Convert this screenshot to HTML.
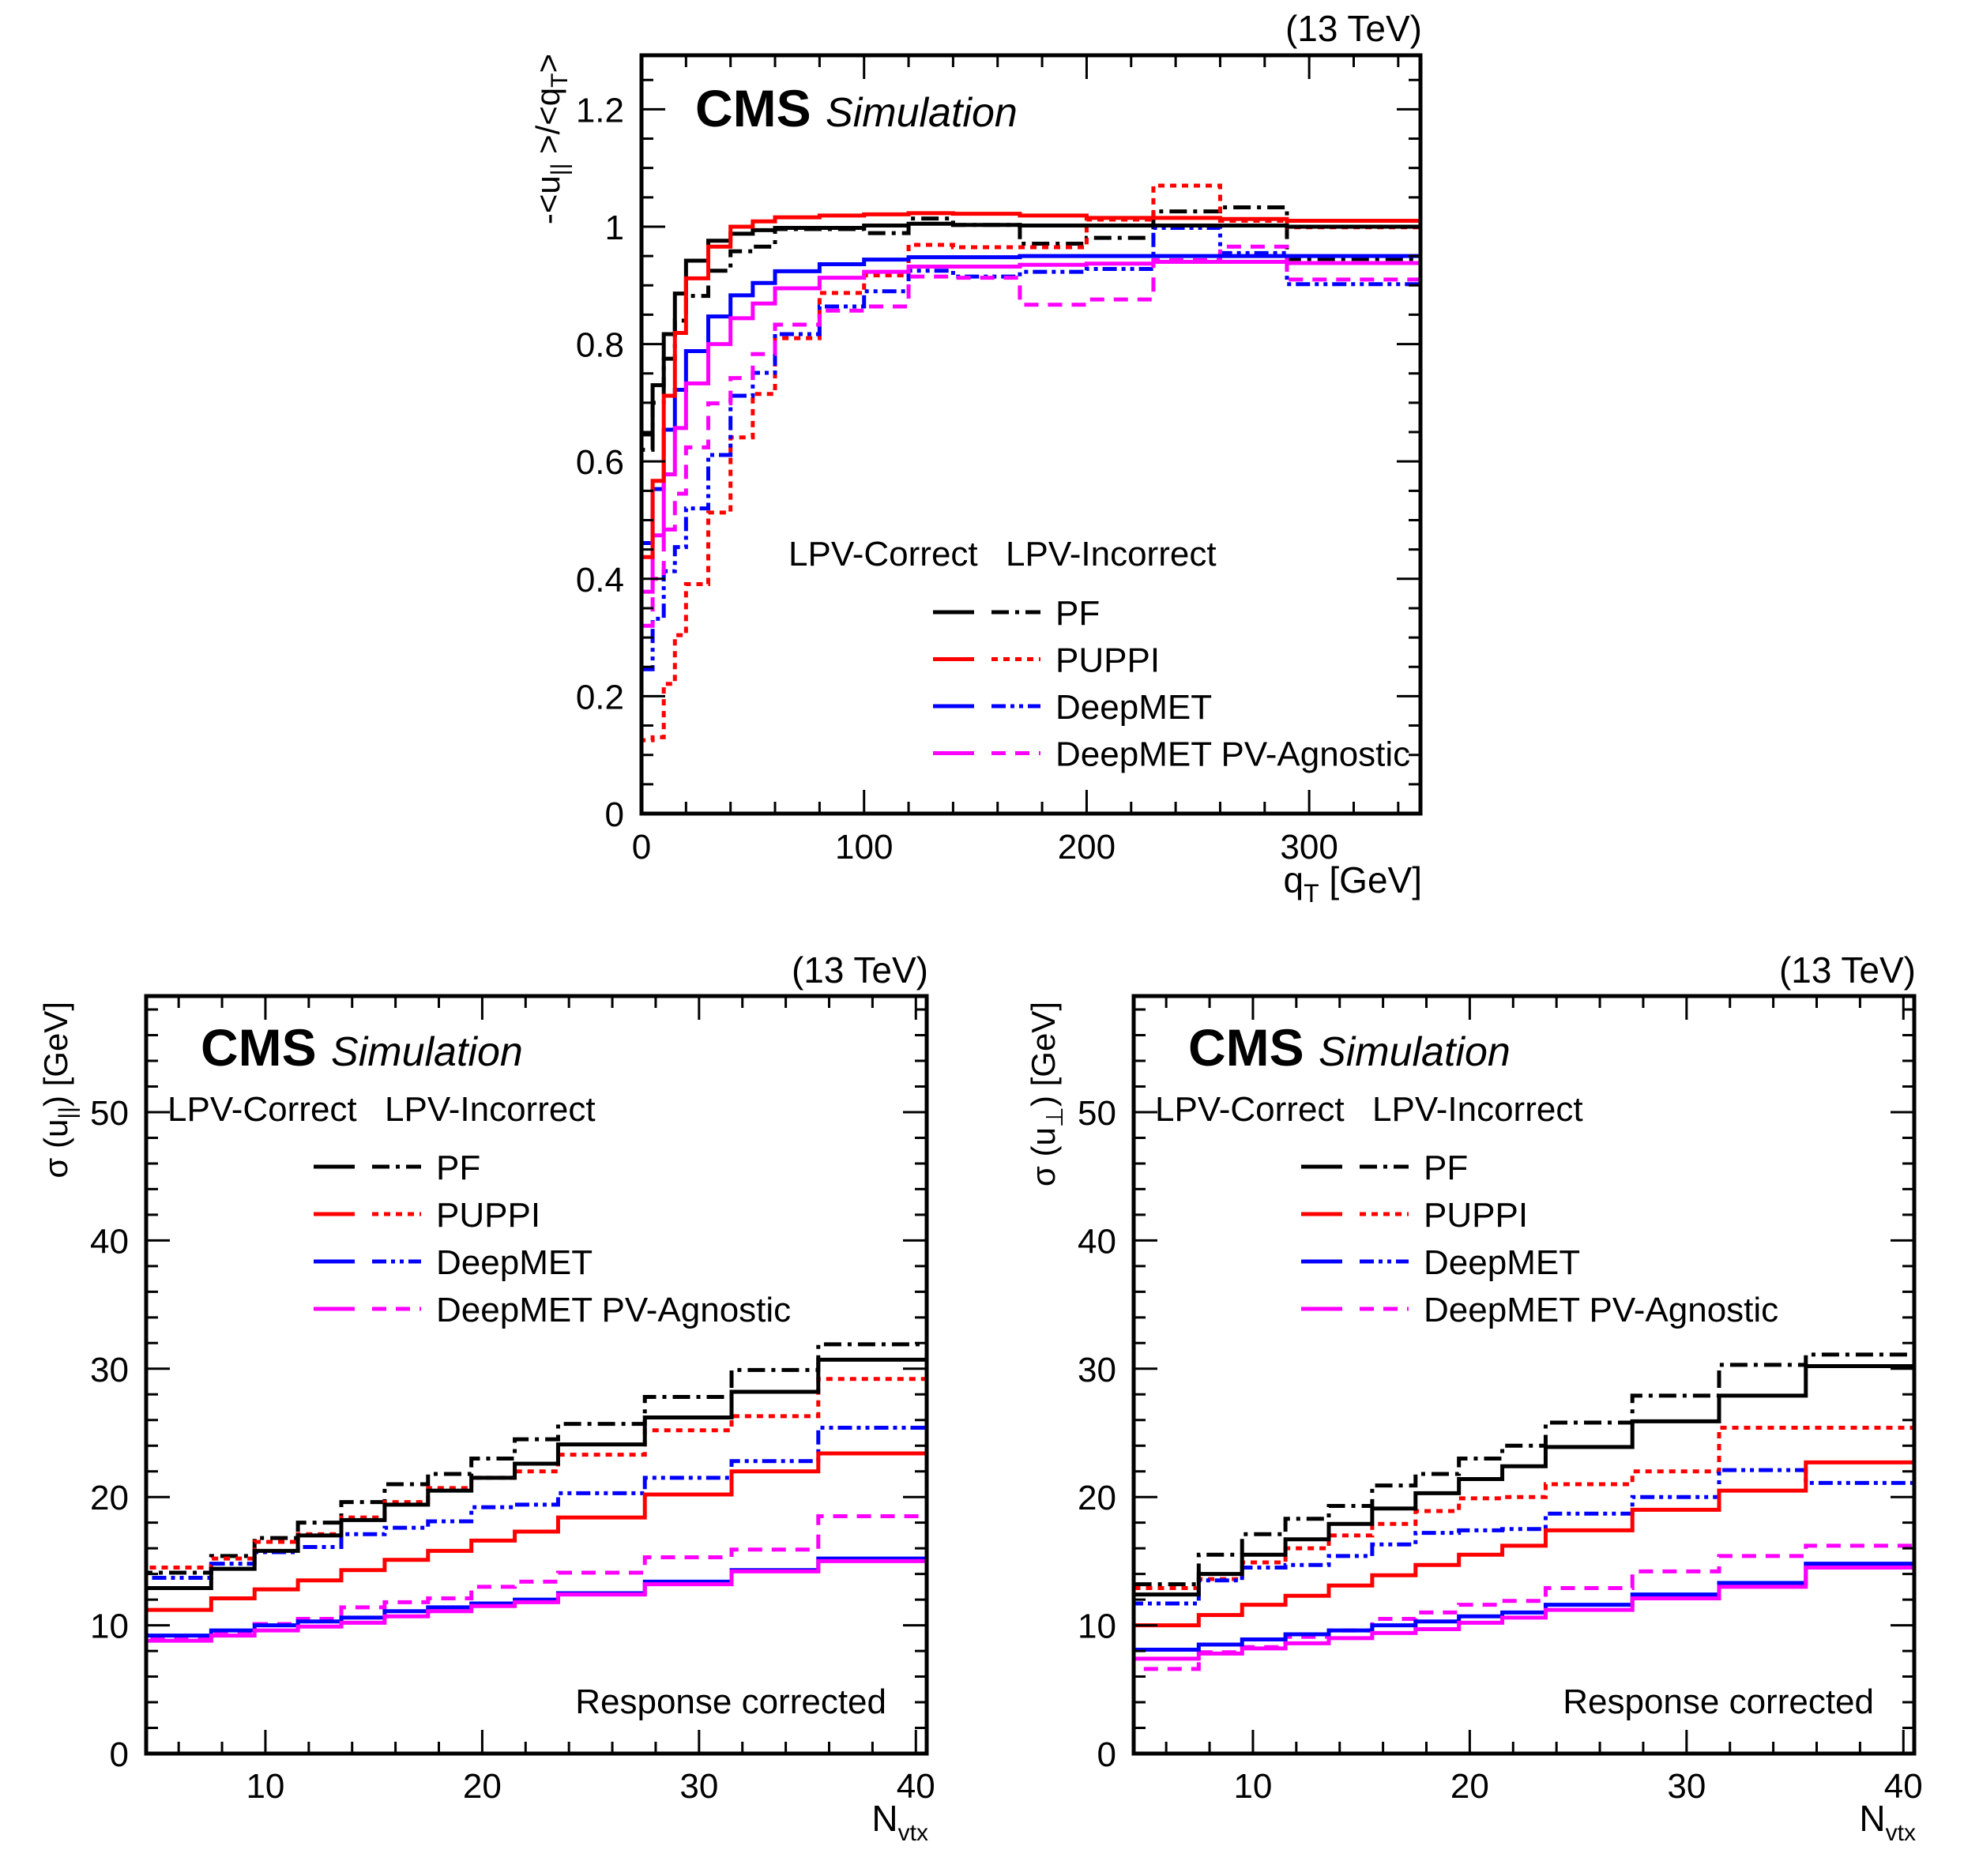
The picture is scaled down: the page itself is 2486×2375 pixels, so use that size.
<!DOCTYPE html>
<html><head><meta charset="utf-8"><style>
html,body{margin:0;padding:0;background:#fff;}
svg{display:block;font-family:"Liberation Sans",sans-serif;}
</style></head><body>
<svg id="fig" width="2486" height="2375" viewBox="0 0 2486 2375" xmlns="http://www.w3.org/2000/svg">
<rect width="2486" height="2375" fill="#fff"/>
</svg>
<script>
// ---- Top panel data (response vs qT) ----
const qtEdges = [0,5,10,15,20,30,40,50,60,80,100,120,140,170,200,230,260,290,350];
const respPF      = [0.646,0.73,0.817,0.886,0.942,0.976,0.988,0.994,0.998,0.998,1.002,1.005,1.003,1.002,1.002,1.002,1.002,1.0];
const respPFinc   = [0.62,0.70,0.775,0.84,0.882,0.925,0.958,0.966,0.996,0.996,0.989,1.014,1.003,0.971,0.981,1.026,1.033,0.945];
const respPUPPI   = [0.437,0.567,0.712,0.819,0.912,0.966,1.0,1.009,1.016,1.019,1.021,1.023,1.022,1.019,1.015,1.015,1.013,1.01];
const respPUPPIinc= [0.125,0.13,0.221,0.304,0.391,0.513,0.641,0.715,0.81,0.887,0.917,0.969,0.965,0.965,1.012,1.07,1.01,0.999];
const respDeep    = [0.461,0.553,0.654,0.722,0.788,0.847,0.883,0.904,0.924,0.936,0.944,0.948,0.948,0.95,0.95,0.95,0.95,0.95];
const respDeepinc = [0.246,0.332,0.413,0.454,0.52,0.611,0.712,0.751,0.817,0.864,0.89,0.925,0.915,0.923,0.928,0.998,0.955,0.902];
const respAgn     = [0.378,0.474,0.578,0.657,0.733,0.8,0.844,0.869,0.895,0.913,0.923,0.932,0.932,0.935,0.937,0.94,0.94,0.938];
const respAgninc  = [0.32,0.40,0.484,0.545,0.624,0.699,0.742,0.783,0.833,0.857,0.864,0.915,0.913,0.867,0.876,0.943,0.966,0.91];
const topXTicks = [0,100,200,300];
const topYTicks = [0,0.2,0.4,0.6,0.8,1,1.2];

// ---- Bottom panels data (resolution vs Nvtx) ----
const nvEdges = [4.5,7.5,9.5,11.5,13.5,15.5,17.5,19.5,21.5,23.5,27.5,31.5,35.5,40.5];
const parPF      = [12.9,14.4,15.8,17.0,18.2,19.4,20.5,21.5,22.6,24.1,26.2,28.2,30.7];
const parPFinc   = [14.1,15.4,16.8,18.0,19.6,21.0,21.8,23.0,24.5,25.7,27.8,29.9,31.9];
const parPUPPI   = [11.2,12.1,12.8,13.5,14.3,15.1,15.8,16.6,17.3,18.4,20.2,22.0,23.4];
const parPUPPIinc= [14.5,15.2,16.5,17.1,18.4,19.6,20.7,21.5,22.0,23.3,25.2,26.3,29.2];
const parDeep    = [9.2,9.6,10.0,10.3,10.6,11.1,11.4,11.7,12.0,12.5,13.4,14.3,15.2];
const parDeepinc = [13.7,14.8,15.7,16.1,17.1,17.6,18.1,19.2,19.4,20.3,21.5,22.8,25.4];
const parAgn     = [8.8,9.2,9.6,9.9,10.2,10.7,11.1,11.5,11.8,12.4,13.2,14.2,15.0];
const parAgninc  = [8.9,9.5,10.1,10.5,11.4,11.8,12.1,13.0,13.4,14.1,15.3,15.9,18.5];
const perpPF      = [12.4,14.0,15.5,16.7,17.9,19.1,20.3,21.4,22.4,23.9,25.9,27.9,30.2];
const perpPFinc   = [13.2,15.5,17.1,18.3,19.3,20.9,21.8,23.0,24.0,25.8,27.9,30.3,31.1];
const perpPUPPI   = [10.0,10.8,11.6,12.3,13.1,13.9,14.7,15.5,16.2,17.4,19.0,20.5,22.7];
const perpPUPPIinc= [12.9,13.6,14.9,16.0,17.0,17.9,18.9,19.9,20.0,21.0,22.0,25.4,25.4];
const perpDeep    = [8.1,8.5,8.9,9.3,9.6,10.0,10.3,10.7,11.0,11.6,12.4,13.3,14.8];
const perpDeepinc = [11.7,13.5,14.5,14.7,15.4,16.3,17.2,17.4,17.5,18.7,20.0,22.1,21.1];
const perpAgn     = [7.4,7.8,8.2,8.6,9.0,9.4,9.7,10.2,10.6,11.2,12.1,13.0,14.5];
const perpAgninc  = [6.6,7.9,8.3,9.1,9.6,10.5,11.0,11.6,11.9,12.9,14.2,15.4,16.2];
const botXTicks = [10,20,30,40];
const botYTicks = [0,10,20,30,40,50];

const NS="http://www.w3.org/2000/svg";
const svg=document.getElementById('fig');
function mk(tag,attrs,parent){const e=document.createElementNS(NS,tag);for(const k in attrs)e.setAttribute(k,attrs[k]);(parent||svg).appendChild(e);return e;}

const STY={
 pf:{stroke:'#000',dash:''}, pfi:{stroke:'#000',dash:'22 8 5 8'},
 pu:{stroke:'#ff0000',dash:''}, pui:{stroke:'#ff0000',dash:'8 7'},
 de:{stroke:'#0000ff',dash:''}, dei:{stroke:'#0000ff',dash:'18 6 5 6 5 6'},
 ag:{stroke:'#ff00ff',dash:''}, agi:{stroke:'#ff00ff',dash:'18 12'}
};

function panel(o){
 const g=mk('g',{});
 
 
 const X=v=>o.x0+(v-o.xmin)/(o.xmax-o.xmin)*(o.x1-o.x0);
 const Y=v=>o.y1-(v-o.ymin)/(o.ymax-o.ymin)*(o.y1-o.y0);
 o.series.forEach(s=>{
   let d='M'+X(o.edges[0])+','+Y(0);
   s.vals.forEach((v,i)=>{d+=' L'+X(o.edges[i])+','+Y(v)+' L'+X(o.edges[i+1])+','+Y(v);});
   d+=' L'+X(o.edges[o.edges.length-1])+','+Y(0);
   const p=mk('path',{d:d,fill:'none',stroke:STY[s.st].stroke,'stroke-width':5,'stroke-dasharray':STY[s.st].dash},g);
   
   
 });
 const fr=mk('rect',{x:o.x0,y:o.y0,width:o.x1-o.x0,height:o.y1-o.y0,fill:'none',stroke:'#000','stroke-width':5},g);
 
 
 let tk='';
 for(let v=o.xminor0;v<=o.xmax+1e-9;v+=o.xminor){
   const major=o.xticks.some(t=>Math.abs(t-v)<1e-6);const L=major?30:15;const x=X(v);
   tk+=`M${x},${o.y1}v${-L}M${x},${o.y0}v${L}`;
 }
 for(let v=o.ymin;v<=o.ymax+1e-9;v+=o.yminor){
   const major=o.yticks.some(t=>Math.abs(t-v)<1e-6);const L=major?30:15;const y=Y(v);
   tk+=`M${o.x0},${y}h${L}M${o.x1},${y}h${-L}`;
 }
 const tp=mk('path',{d:tk,stroke:'#000','stroke-width':3,fill:'none'},g);
 
 
 o.xticks.forEach(t=>{const e=mk('text',{x:X(t),y:o.y1+o.xlabOff,'font-size':44,'text-anchor':'middle'},g);e.textContent=t;
   
   });
 o.yticks.forEach(t=>{const e=mk('text',{x:o.x0-22,y:Y(t)+16,'font-size':44,'text-anchor':'end'},g);e.textContent=t;
   
   });
 return g;
}
function txt(s,x,y,size,attrs){const e=mk('text',Object.assign({x:x,y:y,'font-size':size},attrs||{}));e.innerHTML=s;return e;}

panel({name:'response-panel',x0:812,x1:1798,y0:70,y1:1030,xmin:0,xmax:350,ymin:0,ymax:1.292,
 edges:qtEdges,xticks:topXTicks,yticks:topYTicks,xminor:20,xminor0:0,yminor:0.05,xlabOff:57,
 series:[{name:'pf-incorrect',vals:respPFinc,st:'pfi'},{name:'puppi-incorrect',vals:respPUPPIinc,st:'pui'},
 {name:'deepmet-incorrect',vals:respDeepinc,st:'dei'},{name:'agnostic-incorrect',vals:respAgninc,st:'agi'},
 {name:'deepmet-correct',vals:respDeep,st:'de'},{name:'agnostic-correct',vals:respAgn,st:'ag'},
 {name:'pf-correct',vals:respPF,st:'pf'},{name:'puppi-correct',vals:respPUPPI,st:'pu'}]});

function legend(x,y,xhdr1,xhdr2,yhdr,prefix,step){
 const lab=['PF','PUPPI','DeepMET','DeepMET PV-Agnostic'];
 const sol=['pf','pu','de','ag'],das=['pfi','pui','dei','agi'];
 let e=txt('LPV-Correct',xhdr1,yhdr,44);
 e=txt('LPV-Incorrect',xhdr2,yhdr,44);
 lab.forEach((l,i)=>{
  const cy=y+i*step;
  const g=mk('g',{});
  
  
  mk('line',{x1:x,x2:x+52,y1:cy,y2:cy,stroke:STY[sol[i]].stroke,'stroke-width':5},g);
  mk('line',{x1:x+74,x2:x+136,y1:cy,y2:cy,stroke:STY[das[i]].stroke,'stroke-width':5,'stroke-dasharray':STY[das[i]].dash},g);
  const t=mk('text',{x:x+155,y:cy+16,'font-size':44},g);t.textContent=l;
 });
}
let t;
t=txt('(13 TeV)',1800,52,46,{'text-anchor':'end'});
t=txt('<tspan font-weight="bold" font-size="66">CMS</tspan> <tspan font-style="italic" font-size="52">Simulation</tspan>',880,160,66);
t=txt('-&lt;u<tspan font-size="30" dy="10">||</tspan><tspan dy="-10"> &gt;/&lt;q</tspan><tspan font-size="30" dy="10">T</tspan><tspan dy="-10">&gt;</tspan>',0,0,42,{transform:'translate(708,68) rotate(-90)','text-anchor':'end'});
t=txt('q<tspan font-size="32" dy="12">T</tspan><tspan dy="-12"> [GeV]</tspan>',1800,1130,46,{'text-anchor':'end'});
legend(1181,775,998,1273,716,'top-',59.5);

function bottom(off,name,v,ylab){
 panel({name:name,x0:185+off,x1:1173+off,y0:1261,y1:2220,xmin:4.5,xmax:40.5,ymin:0,ymax:59.05,
  edges:nvEdges,xticks:botXTicks,yticks:botYTicks,xminor:2,xminor0:6,yminor:2,xlabOff:56,
  series:[{name:'pf-incorrect',vals:v[1],st:'pfi'},{name:'puppi-incorrect',vals:v[3],st:'pui'},
  {name:'deepmet-incorrect',vals:v[5],st:'dei'},{name:'agnostic-incorrect',vals:v[7],st:'agi'},
  {name:'deepmet-correct',vals:v[4],st:'de'},{name:'agnostic-correct',vals:v[6],st:'ag'},
  {name:'pf-correct',vals:v[0],st:'pf'},{name:'puppi-correct',vals:v[2],st:'pu'}]});
 let t=txt('(13 TeV)',1175+off,1244,46,{'text-anchor':'end'});
 t=txt('<tspan font-weight="bold" font-size="66">CMS</tspan> <tspan font-style="italic" font-size="52">Simulation</tspan>',254+off,1349,66);
 t=txt('Response corrected',1122+off,2169,44,{'text-anchor':'end'});
 t=txt('N<tspan font-size="30" dy="12">vtx</tspan>',1175+off,2318,46,{'text-anchor':'end'});
 t=txt(ylab,0,0,42,{transform:`translate(${85+off},1268) rotate(-90)`,'text-anchor':'end'});
 legend(397+off,1477,212+off,487+off,1419,name+'-',60);
}
bottom(0,'parallel-resolution-panel',[parPF,parPFinc,parPUPPI,parPUPPIinc,parDeep,parDeepinc,parAgn,parAgninc],
 'σ (u<tspan font-size="30" dy="10">||</tspan><tspan dy="-10">) [GeV]</tspan>');
bottom(1250,'perpendicular-resolution-panel',[perpPF,perpPFinc,perpPUPPI,perpPUPPIinc,perpDeep,perpDeepinc,perpAgn,perpAgninc],
 'σ (u<tspan font-size="30" dy="10">⊥</tspan><tspan dy="-10">) [GeV]</tspan>');
</script>
</body></html>
